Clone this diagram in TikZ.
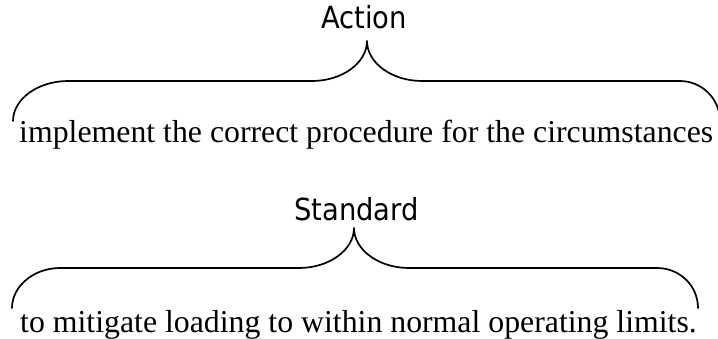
\documentclass[tikz,border=0pt]{standalone}
\usepackage{fontspec}
\setmainfont{Liberation Serif}
\newfontfamily\labelfont{DejaVu Sans Condensed}
\begin{document}
\begin{tikzpicture}[x=1pt,y=-1pt,
  brace/.style={line width=1.7pt, line cap=round, line join=round},
  title/.style={font=\labelfont\fontsize{30.4}{35}\selectfont, inner sep=0pt, anchor=base},
  phrase/.style={font=\fontsize{31.8}{36}\selectfont, inner sep=0pt, anchor=base west}]
\useasboundingbox (0,0) rectangle (718,338);

% upper group: Action
\node[title] (action) at (364,28.5) {Action};
\coordinate (actiontip) at (367,41);
\draw[brace] (13,121) .. controls (13,99) and (38,81) .. (68,81) -- (312,81)
  .. controls (342,81) and (367,63) .. (actiontip)
  .. controls (367,63) and (392,81) .. (422,81) -- (680,81)
  .. controls (702,81) and (720,99) .. (720,121);
\node[phrase] (actiontext) at (19,142) {implement the correct procedure for the circumstances};

% lower group: Standard
\node[title] (standard) at (356.5,220) {Standard};
\coordinate (standardtip) at (354,228);
\draw[brace] (12,308) .. controls (12,286) and (34,268) .. (60,268) -- (299,268)
  .. controls (329,268) and (354,250) .. (standardtip)
  .. controls (354,250) and (379,268) .. (409,268) -- (657,268)
  .. controls (680,268) and (698,286) .. (698,308);
\node[phrase] (standardtext) at (20,332) {to mitigate loading to within normal operating limits.};
\end{tikzpicture}
\end{document}
